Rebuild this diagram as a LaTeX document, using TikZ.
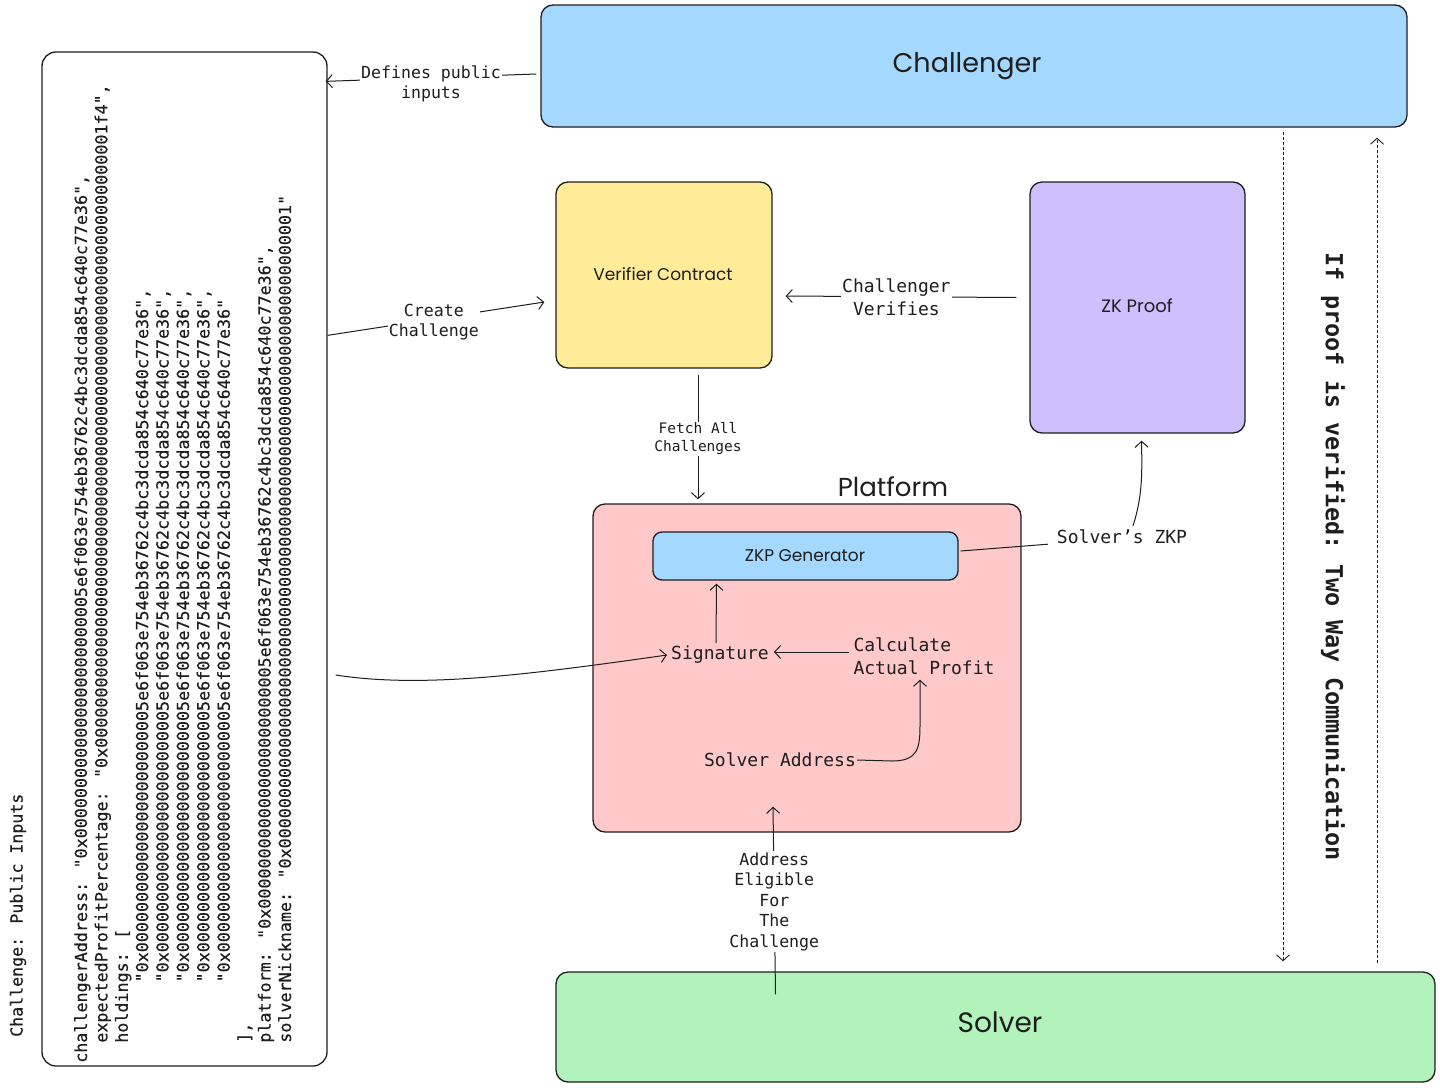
\documentclass[tikz,border=0pt]{standalone}
\usepackage{fontspec}
\setmonofont{DejaVu Sans Mono}
\newfontfamily\codefont{DejaVu Sans Mono}[FakeBold=0.4]
\newfontfamily\handfont{Poppins}
\usetikzlibrary{arrows.meta,calc}
\definecolor{cblue}{HTML}{A5D8FF}
\definecolor{cyellow}{HTML}{FFEC99}
\definecolor{cpurple}{HTML}{D0BFFF}
\definecolor{cred}{HTML}{FFC9C9}
\definecolor{cgreen}{HTML}{B2F2BB}
\definecolor{ink}{HTML}{1E1E1E}
\newcommand{\ind}[1]{\phantom{#1}}
\begin{document}
\begin{tikzpicture}[x=1pt,y=-1pt,
  box/.style={draw=ink, line width=1.3pt, rounded corners=12pt, inner sep=0pt},
  conn/.style={draw=ink, line width=1pt, -{Straight Barb[length=6pt,width=13pt]}},
  plain/.style={draw=ink, line width=1pt},
  lbl/.style={font=\ttfamily\fontsize{18}{23}\selectfont, text=ink, align=center, inner sep=1pt},
  slbl/.style={font=\ttfamily\fontsize{16.6}{20.5}\selectfont, text=ink, align=center, inner sep=1pt},
  hand/.style={font=\handfont\fontsize{26}{30}\selectfont, text=ink}
]
\useasboundingbox[fill=white] (0,0) rectangle (1440,1087);

% boxes
\node[box, fill=cblue, minimum width=866pt, minimum height=122pt] (challenger) at (974,66) {};
\node[hand, font=\handfont\fontsize{27}{30}\selectfont] (challengert) at (967,66) {Challenger};

\node[box, fill=white, rounded corners=14pt, minimum width=285pt, minimum height=1014pt] (codebox) at (184.5,559) {};

\node[box, fill=cyellow, minimum width=216pt, minimum height=186pt] (verifier) at (664,275) {};
\node[hand, font=\handfont\fontsize{17}{20}\selectfont] (verifiert) at (663,274) {Verifier Contract};

\node[box, fill=cpurple, minimum width=215pt, minimum height=251pt] (zkproof) at (1137.5,307.5) {};
\node[hand, font=\handfont\fontsize{18}{20}\selectfont] (zkprooft) at (1137,306) {ZK Proof};

\node[box, fill=cred, minimum width=428pt, minimum height=328pt] (platform) at (807,668) {};
\node[hand, font=\handfont\fontsize{26}{28}\selectfont] (platformt) at (893,487) {Platform};

\node[box, fill=cblue, rounded corners=9pt, minimum width=305pt, minimum height=48pt] (zkpgen) at (805.5,556) {};
\node[hand, font=\handfont\fontsize{17}{20}\selectfont] (zkpgent) at (805,556) {ZKP Generator};

\node[box, fill=cgreen, minimum width=879pt, minimum height=110pt] (solver) at (995.5,1027) {};
\node[hand, font=\handfont\fontsize{28}{30}\selectfont] (solvert) at (1000,1022) {Solver};

% code text
\node[rotate=90, anchor=north west, inner sep=0pt, align=left, text=ink,
      font=\codefont\fontsize{16.7}{20.4}\selectfont] (code) at (74,1063) {%
challengerAddress: "0x0000000000000000000000005e6f063e754eb36762c4bc3dcda854c640c77e36",\\
\ind{xx}expectedProfitPercentage: "0x00000000000000000000000000000000000000000000000000000000000001f4",\\
\ind{xx}holdings: [\\
\ind{xxxxxxxx}"0x0000000000000000000000005e6f063e754eb36762c4bc3dcda854c640c77e36",\\
\ind{xxxxxxxx}"0x0000000000000000000000005e6f063e754eb36762c4bc3dcda854c640c77e36",\\
\ind{xxxxxxxx}"0x0000000000000000000000005e6f063e754eb36762c4bc3dcda854c640c77e36",\\
\ind{xxxxxxxx}"0x0000000000000000000000005e6f063e754eb36762c4bc3dcda854c640c77e36",\\
\ind{xxxxxxxx}"0x0000000000000000000000005e6f063e754eb36762c4bc3dcda854c640c77e36"\\
\ind{xx}],\\
\ind{xx}platform: "0x0000000000000000000000005e6f063e754eb36762c4bc3dcda854c640c77e36",\\
\ind{xx}solverNickname: "0x0000000000000000000000000000000000000000000000000000000000000001"};

\node[rotate=90, anchor=west, inner sep=0pt, text=ink,
      font=\codefont\fontsize{16.6}{20}\selectfont] (codetitle) at (18,1037) {Challenge: Public Inputs};

% inner labels
\node[lbl] (sig) at (720,655) {Signature};
\node[lbl, align=left] (calc) at (924,656) {Calculate\\Actual Profit};
\node[lbl] (saddr) at (780,760) {Solver Address};
\node[lbl] (szkp) at (1122,537) {Solver’s ZKP};

% vertical communication text
\node[rotate=-90, inner sep=0pt, text=ink,
      font=\ttfamily\bfseries\fontsize{23.5}{26}\selectfont] (twoway) at (1333,557) {If proof is verified: Two Way Communication};

% connectors
\draw[conn] ($(challenger.west)+(-4,8)$) -- node[slbl, fill=white, pos=0.5, yshift=-6pt] (deflbl) {Defines public\\inputs} ($(codebox.north east)+(-2,30)$);

\draw[conn] ($(codebox.north east)+(0,284)$) -- node[slbl, fill=white, pos=0.49, yshift=-3pt] (cclbl) {Create\\Challenge} ($(verifier.west)+(-11,27)$);

\draw[conn] ($(zkproof.west)+(-13,-10)$) -- node[lbl, fill=white, pos=0.52, yshift=-1pt] (cvlbl) {Challenger\\Verifies} ($(verifier.east)+(13,21)$);

\draw[conn] ($(verifier.south)+(34,6)$) -- node[font=\ttfamily\fontsize{14.5}{18}\selectfont, text=ink, align=center, fill=white, inner sep=1pt, pos=0.5, yshift=-2pt] (fetchlbl) {Fetch All\\Challenges} ($(platform.north)+(-109,-4)$);

\draw[conn] ($(solver.north)+(-220,23)$) -- node[slbl, fill=white, pos=0.5, yshift=-1pt] (elig) {Address\\Eligible\\For\\The\\Challenge} ($(platform.south)+(-34,-26)$);

\draw[plain] ($(zkpgen.east)+(2,-5)$) -- ($(szkp.south west)+(-8,-1)$);
\draw[conn] ($(szkp.north)+(11,-3)$) .. controls (1143,495) and (1142,470) .. ($(zkproof.south)+(4,7)$);

\draw[conn] ($(sig.north)+(-4,-2)$) -- ($(zkpgen.south)+(-89,3)$);
\draw[conn] ($(calc.west)+(-3,-4)$) -- ($(sig.east)+(4,-3)$);
\draw[conn] (saddr.east) -- (892,761) .. controls (918,761) and (920,748) .. (920,725) -- ($(calc.south)+(-4,4)$);

\draw[conn] ($(codebox.east)+(8,116)$) .. controls (420,688) and (520,676) .. ($(sig.west)+(-3,0)$);

% dashed two-way arrows
\draw[conn, dash pattern=on 3pt off 2pt, line width=0.9pt] ($(challenger.south)+(309,4)$) -- ($(solver.north)+(287.5,-10)$);
\draw[conn, dash pattern=on 3pt off 2pt, line width=0.9pt] ($(solver.north)+(381.5,-8)$) -- ($(challenger.south)+(403,10)$);
\end{tikzpicture}
\end{document}
